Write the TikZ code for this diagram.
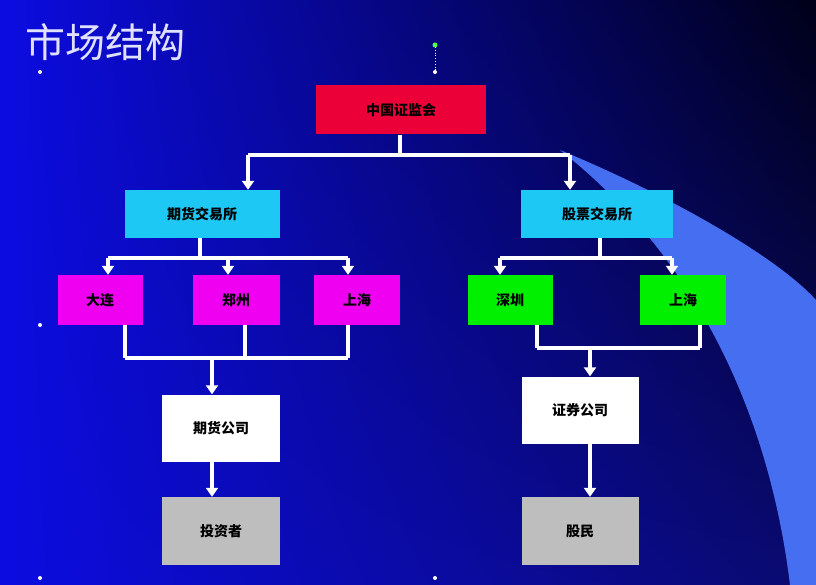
\documentclass[tikz,border=0pt]{standalone}
\usepackage{fontspec}
\newfontfamily\cjk{Noto Sans CJK SC}
\usetikzlibrary{arrows.meta,shadings}
\definecolor{bgleft}{RGB}{12,12,225}
\definecolor{bgtr}{RGB}{0,0,25}
\definecolor{bgbr}{RGB}{10,10,110}
\definecolor{swoosh}{RGB}{70,110,240}
\definecolor{cred}{RGB}{235,0,55}
\definecolor{ccyan}{RGB}{30,200,245}
\definecolor{cmag}{RGB}{240,0,240}
\definecolor{cgreen}{RGB}{0,240,0}
\definecolor{cgray}{RGB}{190,190,190}
\tikzset{
  bx/.style={draw=none,minimum width=#1,font=\cjk\bfseries\fontsize{14}{16}\selectfont,text=black,inner sep=0pt},
  wline/.style={draw=white,line width=3.5pt},
  warr/.style={draw=white,line width=3.5pt,-{Triangle[length=9pt,width=12pt]}},
}
\begin{document}
\begin{tikzpicture}[x=1pt,y=-1pt]
\useasboundingbox (0,0) rectangle (816,585);
\shade[upper left=bgleft,lower left=bgleft,upper right=bgtr,lower right=bgbr] (0,0) rectangle (816,585);
\fill[swoosh] (560,150) .. controls (680,200) and (780,260) .. (816,300) -- (816,585) -- (790,585) .. controls (770,420) and (700,260) .. (560,150) -- cycle;
\node[anchor=west,text=white!88!blue,font=\cjk\fontsize{40}{44}\selectfont] (title) at (22,42) {市场结构};
\foreach \p in {{(40,72)},{(40,325)},{(40,578)},{(435,578)}}
  \fill[white] \p circle (2pt);
\draw[white,dotted,thick] (435,47) -- (435,72);
\fill[green!70!white] (435,45) circle (2.5pt);
\fill[white] (435,72) circle (2pt);
\node[bx=170pt,minimum height=49pt,fill=cred] (zj) at (401,110) {中国证监会};
\node[bx=155pt,minimum height=48pt,fill=ccyan] (qh) at (202,214) {期货交易所};
\node[bx=152pt,minimum height=48pt,fill=ccyan] (gp) at (597,214) {股票交易所};
\node[bx=85pt,minimum height=50pt,fill=cmag] (dl) at (100,300) {大连};
\node[bx=87pt,minimum height=50pt,fill=cmag] (zz) at (236,300) {郑州};
\node[bx=86pt,minimum height=50pt,fill=cmag] (sh1) at (357,300) {上海};
\node[bx=85pt,minimum height=50pt,fill=cgreen] (sz) at (510,300) {深圳};
\node[bx=86pt,minimum height=50pt,fill=cgreen] (sh2) at (683,300) {上海};
\node[bx=118pt,minimum height=67pt,fill=white] (qhgs) at (221,428) {期货公司};
\node[bx=117pt,minimum height=67pt,fill=white] (zqgs) at (580,410) {证券公司};
\node[bx=118pt,minimum height=68pt,fill=cgray] (tzz) at (221,531) {投资者};
\node[bx=117pt,minimum height=68pt,fill=cgray] (gm) at (580,531) {股民};
\coordinate (j1) at (400,155);
\coordinate (j1l) at (248,155);
\coordinate (j1r) at (570,155);
\coordinate (q1) at (200,258);
\coordinate (q1l) at (108,258);
\coordinate (q1m) at (228,258);
\coordinate (q1r) at (348,258);
\coordinate (m1) at (125,358);
\coordinate (m2) at (245,358);
\coordinate (m3) at (348,358);
\coordinate (mm) at (212,358);
\coordinate (g1) at (600,258);
\coordinate (g1l) at (500,258);
\coordinate (g1r) at (672,258);
\coordinate (s1) at (537,348);
\coordinate (s2) at (700,348);
\coordinate (sm) at (590,348);
\draw[wline] (zj.south -| j1) -- (j1);
\draw[wline] (j1l) -- (j1r);
\draw[warr] (j1l) -- (j1l |- qh.north);
\draw[warr] (j1r) -- (j1r |- gp.north);
\draw[wline] (qh.south -| q1) -- (q1);
\draw[wline] (q1l) -- (q1r);
\draw[warr] (q1l) -- (q1l |- dl.north);
\draw[warr] (q1m) -- (q1m |- zz.north);
\draw[warr] (q1r) -- (q1r |- sh1.north);
\draw[wline] (dl.south -| m1) -- (m1);
\draw[wline] (zz.south -| m2) -- (m2);
\draw[wline] (sh1.south -| m3) -- (m3);
\draw[wline] (m1) -- (m3);
\draw[warr] (mm) -- (mm |- qhgs.north);
\draw[warr] (qhgs.south -| mm) -- (mm |- tzz.north);
\draw[wline] (gp.south -| g1) -- (g1);
\draw[wline] (g1l) -- (g1r);
\draw[warr] (g1l) -- (g1l |- sz.north);
\draw[warr] (g1r) -- (g1r |- sh2.north);
\draw[wline] (sz.south -| s1) -- (s1);
\draw[wline] (sh2.south -| s2) -- (s2);
\draw[wline] (s1) -- (s2);
\draw[warr] (sm) -- (sm |- zqgs.north);
\draw[warr] (zqgs.south -| sm) -- (sm |- gm.north);
\end{tikzpicture}
\end{document}
